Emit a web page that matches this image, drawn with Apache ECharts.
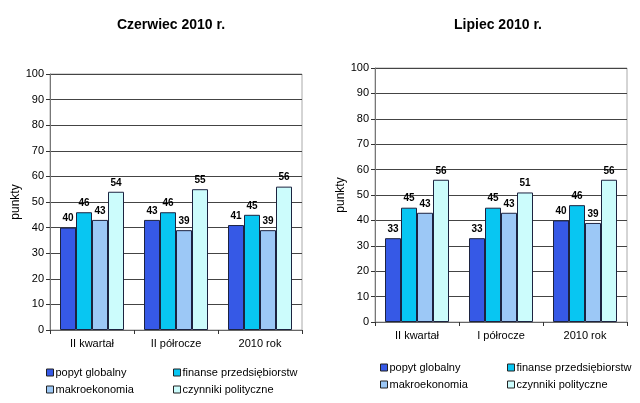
<!DOCTYPE html>
<html>
<head>
<meta charset="utf-8">
<script src="https://cdn.jsdelivr.net/npm/echarts@6/dist/echarts.min.js"></script>
<style>html,body{margin:0;padding:0;background:#fff}#c{width:640px;height:403px}</style>
</head>
<body>
<div id="c"></div>
<script>
const seriesNames = ['popyt globalny', 'finanse przedsiębiorstw', 'makroekonomia', 'czynniki polityczne'];
const categoriesJune = ['II kwartał', 'II półrocze', '2010 rok'];
const categoriesJuly = ['II kwartał', 'I półrocze', '2010 rok'];
const junePopyt = [40, 43, 41];
const juneFinanse = [46, 46, 45];
const juneMakro = [43, 39, 39];
const junePolit = [54, 55, 56];
const julyPopyt = [33, 33, 40];
const julyFinanse = [45, 45, 46];
const julyMakro = [43, 43, 39];
const julyPolit = [56, 51, 56];
const yMin = 0, yMax = 100, yStep = 10;

const colors = ['#3659E6', '#08C6F2', '#9CC8F6', '#CCFCFC'];
const FONT = 'Liberation Sans, Arial, sans-serif';

const chart = echarts.init(document.getElementById('c'));

function makeSeries(vals, idx, gi) {
  return {
    name: seriesNames[idx], type: 'bar', xAxisIndex: gi, yAxisIndex: gi,
    data: vals, barWidth: 16, barGap: '0%',
    itemStyle: { color: colors[idx], borderColor: '#1c2340', borderWidth: 1 },
    label: { show: true, position: 'top', distance: 4, color: '#000', fontWeight: 'bold', fontSize: 10, fontFamily: FONT },
    animation: false
  };
}

function xAx(gi, cats) {
  return {
    gridIndex: gi, type: 'category', data: cats,
    axisLine: { lineStyle: { color: '#666' } },
    axisTick: { show: true, length: 4, lineStyle: { color: '#333' } },
    axisLabel: { color: '#000', fontSize: 11, fontFamily: FONT, margin: 8 }
  };
}
function yAx(gi, gap) {
  return {
    gridIndex: gi, type: 'value', min: yMin, max: yMax, interval: yStep,
    name: 'punkty', nameLocation: 'middle', nameGap: gap, nameRotate: 90,
    nameTextStyle: { color: '#000', fontSize: 12, fontFamily: FONT },
    axisLine: { show: true, lineStyle: { color: '#777' } },
    axisTick: { show: true, length: 4, lineStyle: { color: '#333' } },
    axisLabel: { color: '#000', fontSize: 11, fontFamily: FONT, margin: 6 },
    splitLine: { lineStyle: { color: '#444', width: 1 } }
  };
}
function legendCol(names, left, top) {
  return {
    orient: 'vertical', left: left, top: top, itemGap: 6,
    itemWidth: 7, itemHeight: 7, icon: 'rect',
    itemStyle: { borderColor: '#222', borderWidth: 1 },
    textStyle: { color: '#000', fontSize: 11, fontFamily: FONT, padding: [0, 0, 0, -3] },
    data: names, selectedMode: false
  };
}

chart.setOption({
  backgroundColor: '#fff',
  animation: false,
  title: [
    { text: 'Czerwiec 2010 r.', left: 166, top: 13, textAlign: 'center',
      textStyle: { fontSize: 14, fontWeight: 'bold', color: '#000', fontFamily: FONT } },
    { text: 'Lipiec 2010 r.', left: 493, top: 13, textAlign: 'center',
      textStyle: { fontSize: 14, fontWeight: 'bold', color: '#000', fontFamily: FONT } }
  ],
  grid: [
    { left: 50, top: 74, width: 252, height: 256, show: true, borderColor: '#aaa', borderWidth: 1 },
    { left: 375, top: 68, width: 252, height: 254, show: true, borderColor: '#aaa', borderWidth: 1 }
  ],
  xAxis: [xAx(0, categoriesJune), xAx(1, categoriesJuly)],
  yAxis: [yAx(0, 28), yAx(1, 26)],
  legend: [
    legendCol([seriesNames[0], seriesNames[2]], 41, 362),
    legendCol([seriesNames[1], seriesNames[3]], 168, 362),
    legendCol([seriesNames[0], seriesNames[2]], 375, 357),
    legendCol([seriesNames[1], seriesNames[3]], 502, 357)
  ],
  series: [
    makeSeries(junePopyt, 0, 0), makeSeries(juneFinanse, 1, 0), makeSeries(juneMakro, 2, 0), makeSeries(junePolit, 3, 0),
    makeSeries(julyPopyt, 0, 1), makeSeries(julyFinanse, 1, 1), makeSeries(julyMakro, 2, 1), makeSeries(julyPolit, 3, 1)
  ]
});
</script>
</body>
</html>
